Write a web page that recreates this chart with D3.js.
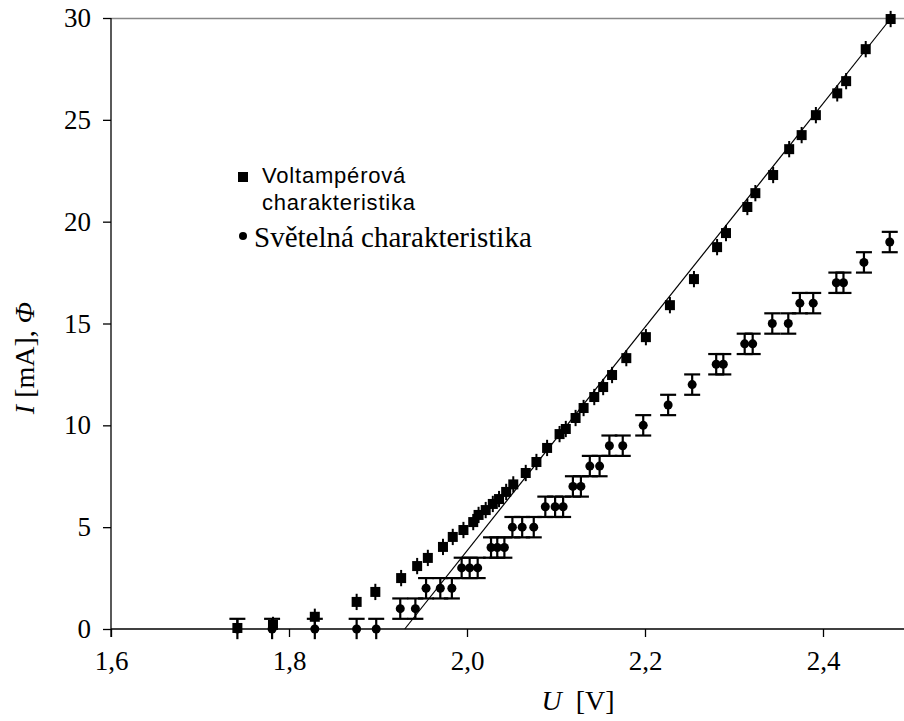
<!DOCTYPE html>
<html>
<head>
<meta charset="utf-8">
<script src="https://cdn.jsdelivr.net/npm/d3@7"></script>
<style>
  body { margin: 0; background: #fff; }
  svg { display: block; }
</style>
</head>
<body>
<div id="chart-area"></div>
<script>
/*
*    LED characteristics
*/

// Voltampérová charakteristika (squares)
var vaU = [1.742, 1.782, 1.829, 1.876, 1.897, 1.926, 1.944, 1.956, 1.973, 1.984,
    1.996, 2.007, 2.013, 2.021, 2.029, 2.036, 2.044, 2.052, 2.066, 2.078,
    2.090, 2.104, 2.111, 2.122, 2.131, 2.143, 2.153, 2.163, 2.179, 2.201,
    2.228, 2.255, 2.281, 2.291, 2.315, 2.324, 2.344, 2.362, 2.376, 2.392,
    2.416, 2.426, 2.448, 2.476];
var vaI = [0.05, 0.2, 0.6, 1.33, 1.82, 2.5, 3.09, 3.49, 4.03, 4.52,
    4.86, 5.25, 5.6, 5.84, 6.14, 6.38, 6.73, 7.1, 7.66, 8.2,
    8.89, 9.57, 9.82, 10.36, 10.85, 11.39, 11.88, 12.47, 13.3, 14.33,
    15.9, 17.18, 18.75, 19.44, 20.72, 21.4, 22.29, 23.56, 24.25, 25.23,
    26.3, 26.9, 28.47, 29.95];
var vaErr = 0.4;

// Světelná charakteristika (circles)
var svU = [1.742, 1.781, 1.829, 1.876, 1.898, 1.925, 1.942, 1.954, 1.970, 1.983,
    1.994, 2.003, 2.012, 2.027, 2.034, 2.042, 2.051, 2.062, 2.075, 2.088,
    2.099, 2.108, 2.119, 2.128, 2.138, 2.149, 2.160, 2.175, 2.198, 2.226,
    2.253, 2.280, 2.288, 2.312, 2.321, 2.343, 2.361, 2.374, 2.389, 2.415,
    2.423, 2.446, 2.475];
var svPhi = [0, 0, 0, 0, 0, 1, 1, 2, 2, 2,
    3, 3, 3, 4, 4, 4, 5, 5, 5, 6,
    6, 6, 7, 7, 8, 8, 9, 9, 10, 11,
    12, 13, 13, 14, 14, 15, 15, 16, 16, 17,
    17, 18, 19];
var svErr = 0.5;

// linear fit of the I-U curve: I = fitSlope * U + fitIntercept
var fitSlope = 54.9;
var fitIntercept = -105.96;

var xTicks = [1.6, 1.8, 2.0, 2.2, 2.4];
var yTicks = [0, 5, 10, 15, 20, 25, 30];

var width = 904;
var height = 721;

var svg = d3.select("#chart-area").append("svg")
    .attr("width", width)
    .attr("height", height);

var x = d3.scaleLinear().domain([1.6, 2.5]).range([111, 912]);
var y = d3.scaleLinear().domain([0, 30]).range([629, 18]);

var serif = "'Liberation Serif', 'Times New Roman', serif";
var sans = "'Liberation Sans', Arial, sans-serif";

// top frame line
svg.append("line")
    .attr("x1", x(1.6))
    .attr("x2", width)
    .attr("y1", y(30) + 0.5)
    .attr("y2", y(30) + 0.5)
    .attr("stroke", "#888")
    .attr("stroke-width", 1.5);

// axes
var xAxisCall = d3.axisBottom(x)
    .tickValues(xTicks)
    .tickSize(8)
    .tickPadding(14)
    .tickFormat((d) => d3.format(".1f")(d).replace(".", ","));

var xAxisGroup = svg.append("g")
    .attr("transform", "translate(0, " + y(0) + ")")
    .call(xAxisCall);

xAxisGroup.select(".domain").attr("d", "M" + x(1.6) + ",0H" + width);

var yAxisCall = d3.axisLeft(y)
    .tickValues(yTicks)
    .tickSize(8)
    .tickPadding(12)
    .tickFormat(d3.format("d"));

var yAxisGroup = svg.append("g")
    .attr("transform", "translate(" + x(1.6) + ", 0)")
    .call(yAxisCall);

yAxisGroup.select(".domain").attr("d", "M0," + y(30) + "V" + (y(0) + 8));

svg.selectAll(".tick text")
    .attr("fill", "#000")
    .style("font-family", serif)
    .style("font-size", "27px");

xAxisGroup.selectAll(".tick text").attr("dy", "0.71em");
svg.selectAll(".domain, .tick line")
    .attr("stroke", "#000")
    .attr("stroke-width", 1.3);

// axis labels
var xLabel = svg.append("text")
    .attr("x", 578)
    .attr("y", 710)
    .attr("text-anchor", "middle")
    .style("font-family", serif)
    .style("font-size", "28px")
    .style("white-space", "pre");
xLabel.append("tspan").style("font-style", "italic").text("U");
xLabel.append("tspan").text("  [V]");

var yLabel = svg.append("text")
    .attr("transform", "translate(34, 358) rotate(-90)")
    .attr("text-anchor", "middle")
    .style("font-family", serif)
    .style("font-size", "28px");
yLabel.append("tspan").style("font-style", "italic").text("I");
yLabel.append("tspan").text(" [mA], ");
yLabel.append("tspan").style("font-style", "italic").text("Φ");

// fit line
var fitStart = -fitIntercept / fitSlope;
var fitEnd = (30 - fitIntercept) / fitSlope;
svg.append("line")
    .attr("x1", x(fitStart))
    .attr("y1", y(fitSlope * fitStart + fitIntercept))
    .attr("x2", x(fitEnd))
    .attr("y2", y(fitSlope * fitEnd + fitIntercept))
    .attr("stroke", "#000")
    .attr("stroke-width", 1.2);

// Světelná charakteristika – error bars + circles
var sv = svU.map((u, i) => ({ u: u, v: svPhi[i] }));

var svBars = svg.append("g").selectAll("g").data(sv).enter().append("g")
    .attr("stroke", "#000")
    .attr("stroke-width", 2.2);

svBars.append("line")
    .attr("x1", (d) => x(d.u))
    .attr("x2", (d) => x(d.u))
    .attr("y1", (d) => y(d.v - svErr))
    .attr("y2", (d) => y(d.v + svErr));

svBars.append("line")
    .attr("x1", (d) => x(d.u) - 8)
    .attr("x2", (d) => x(d.u) + 8)
    .attr("y1", (d) => y(d.v + svErr))
    .attr("y2", (d) => y(d.v + svErr));

svBars.filter((d) => d.v - svErr >= 0).append("line")
    .attr("x1", (d) => x(d.u) - 8)
    .attr("x2", (d) => x(d.u) + 8)
    .attr("y1", (d) => y(d.v - svErr))
    .attr("y2", (d) => y(d.v - svErr));

svg.append("g").selectAll("circle").data(sv).enter().append("circle")
    .attr("cx", (d) => x(d.u))
    .attr("cy", (d) => y(d.v))
    .attr("r", 4.5)
    .attr("fill", "#000");

// Voltampérová charakteristika – error bars + squares
var va = vaU.map((u, i) => ({ u: u, v: vaI[i] }));

svg.append("g").selectAll("line").data(va).enter().append("line")
    .attr("x1", (d) => x(d.u))
    .attr("x2", (d) => x(d.u))
    .attr("y1", (d) => y(Math.max(0, d.v - vaErr)))
    .attr("y2", (d) => y(d.v + vaErr))
    .attr("stroke", "#000")
    .attr("stroke-width", 2);

svg.append("g").selectAll("rect").data(va).enter().append("rect")
    .attr("x", (d) => x(d.u) - 5)
    .attr("y", (d) => y(d.v) - 5)
    .attr("width", 10)
    .attr("height", 10)
    .attr("fill", "#000");

// legend
var legend = svg.append("g");

legend.append("rect")
    .attr("x", 238)
    .attr("y", 172)
    .attr("width", 10)
    .attr("height", 10)
    .attr("fill", "#000");

legend.append("text")
    .attr("x", 262)
    .attr("y", 183)
    .style("font-family", sans)
    .style("font-size", "22px")
    .style("letter-spacing", "0.8px")
    .text("Voltampérová");

legend.append("text")
    .attr("x", 262)
    .attr("y", 210)
    .style("font-family", sans)
    .style("font-size", "22px")
    .style("letter-spacing", "0.8px")
    .text("charakteristika");

legend.append("circle")
    .attr("cx", 243)
    .attr("cy", 236)
    .attr("r", 4)
    .attr("fill", "#000");

legend.append("text")
    .attr("x", 254)
    .attr("y", 247)
    .style("font-family", serif)
    .style("font-size", "29px")
    .text("Světelná charakteristika");
</script>
</body>
</html>
